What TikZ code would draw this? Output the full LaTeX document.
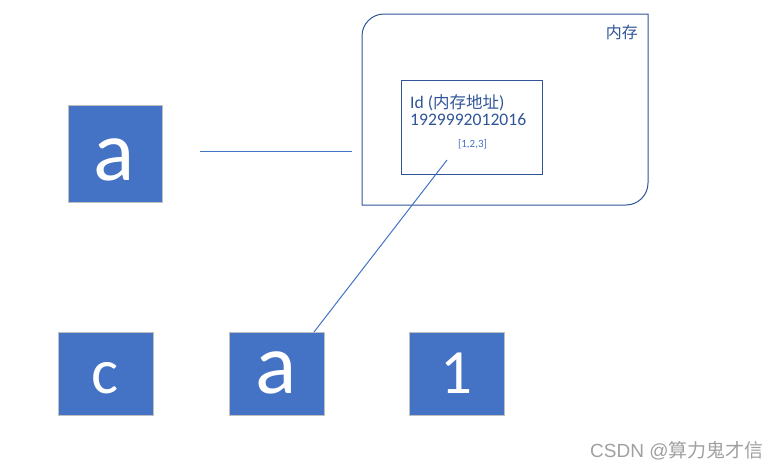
\documentclass[tikz,border=0pt]{standalone}
\usepackage{fontspec}
\setmainfont{Carlito}
\newfontfamily\cjkf{Noto Sans CJK SC}
\newfontfamily\wmfont{Liberation Sans}
\definecolor{boxblue}{HTML}{4472C4}
\definecolor{darkblue}{HTML}{2F5597}
\definecolor{edgegray}{HTML}{BFBFBF}
\definecolor{wmgray}{HTML}{A0A0A0}
\begin{document}
\begin{tikzpicture}[x=1pt,y=-1pt,
  sq/.style={draw=edgegray,fill=boxblue,line width=1pt},
  glyph/.style={text=white,anchor=base,inner sep=0pt},
  conn/.style={draw=boxblue,line width=1pt},
  frame/.style={draw=darkblue,line width=1pt}]
\useasboundingbox (0,0) rectangle (777,469);
% memory (round diagonal corners)
\coordinate (mtl) at (362,14);
\coordinate (mbr) at (648,205);
\draw[frame] (mtl) ++(0,22) [rounded corners=22pt] -- (mtl) [sharp corners] -- (648,14)
  [rounded corners=22pt] -- (mbr) [sharp corners] -- (362,205) -- cycle;
\node[anchor=base east,inner sep=0pt,text=darkblue,font=\cjkf\fontsize{16}{18}\selectfont] (memlbl) at (638,38) {内存};
\node[frame,minimum width=141pt,minimum height=94pt,inner sep=0pt,anchor=north west] (inner) at (401,80) {};
\node[anchor=base west,inner sep=0pt,text=darkblue,font=\fontsize{17.6}{20}\selectfont] (idl) at (410,108) {Id ({\cjkf\fontsize{16.5}{20}\selectfont 内存地址})};
\node[anchor=base west,inner sep=0pt,text=darkblue,font=\fontsize{17.6}{20}\selectfont] (num) at (410,125) {1929992012016};
\node[anchor=base,inner sep=0pt,text=boxblue,font=\fontsize{11}{13}\selectfont] (lst) at (472.5,147) {[1,2,3]};
% boxes
\node[sq,minimum width=94pt,minimum height=97pt,inner sep=0pt,anchor=north west] (atop) at (68,105) {};
\node[glyph,font=\fontsize{86}{90}\selectfont] at (114.5,180) {a};
\node[sq,minimum width=95pt,minimum height=83pt,inner sep=0pt,anchor=north west] (cbox) at (58,332) {};
\node[glyph,font=\fontsize{64}{70}\selectfont] at (105.5,393) {c};
\node[sq,minimum width=95pt,minimum height=83pt,inner sep=0pt,anchor=north west] (abot) at (229,332) {};
\node[glyph,font=\fontsize{86}{90}\selectfont] at (276.5,393) {a};
\node[sq,minimum width=95pt,minimum height=83pt,inner sep=0pt,anchor=north west] (one) at (409,332) {};
\node[glyph,font=\fontsize{63}{70}\selectfont] at (456.5,393) {1};
% connectors
\coordinate (h1) at (200,151);
\coordinate (h2) at (352,151);
\draw[conn] (h1) -- (h2);
\coordinate (d1) at (314,332);
\coordinate (d2) at (447,160);
\draw[conn] (d1) -- (d2);
% watermark
\node[anchor=base west,inner sep=0pt,text=wmgray,font=\wmfont\fontsize{19}{21}\selectfont] (wm) at (590,457) {CSDN @{\cjkf 算力鬼才信}};
\end{tikzpicture}
\end{document}
